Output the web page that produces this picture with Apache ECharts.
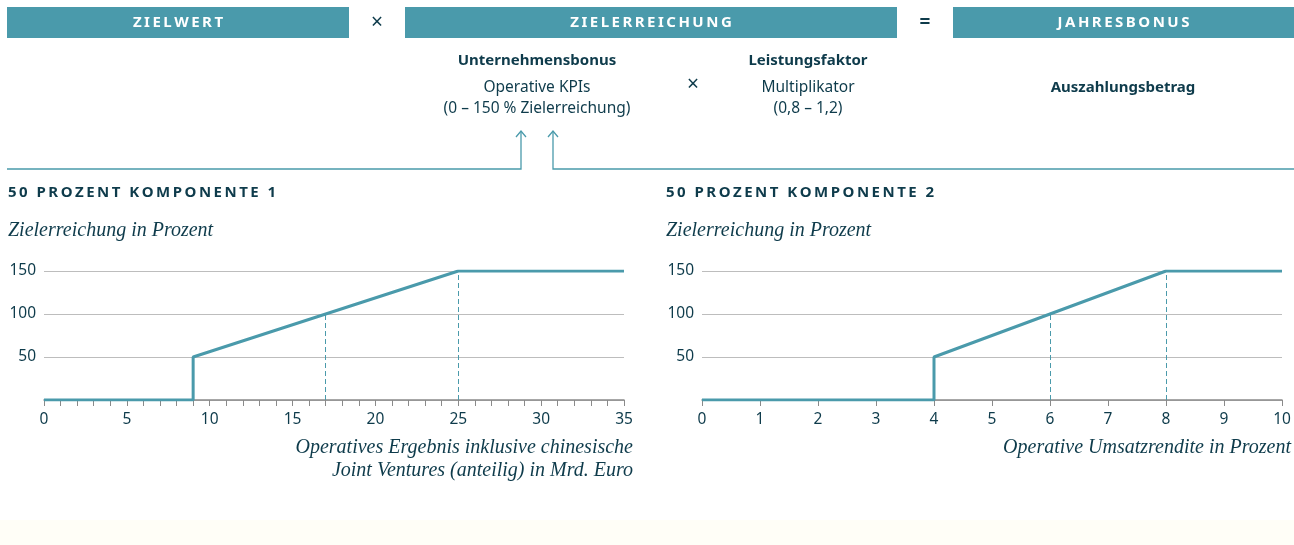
<!DOCTYPE html>
<html><head><meta charset="utf-8">
<script src="https://cdn.jsdelivr.net/npm/echarts@6/dist/echarts.min.js"></script>
<style>html,body{margin:0;padding:0;background:#fff}#c{width:1294px;height:545px}</style>
</head><body><div id="c"></div>
<script>
// ---- data ----
const headerLabels = ['ZIELWERT', 'ZIELERREICHUNG', 'JAHRESBONUS'];
const operators = ['×', '='];
const comp1Title = '50 PROZENT KOMPONENTE 1';
const comp2Title = '50 PROZENT KOMPONENTE 2';
const yAxisTitle = 'Zielerreichung in Prozent';
const xName1 = ['Operatives Ergebnis inklusive chinesische', 'Joint Ventures (anteilig) in Mrd. Euro'];
const xName2 = ['Operative Umsatzrendite in Prozent'];
const line1 = [[0, 0], [9, 0], [9, 50], [17, 100], [25, 150], [35, 150]];
const line2 = [[0, 0], [4, 0], [4, 50], [6, 100], [8, 150], [10, 150]];
const guides1 = [[17, 100], [25, 150]];
const guides2 = [[6, 100], [8, 150]];
const yTicks = [0, 50, 100, 150];

const TEAL = '#4a9aab', DARK = '#0e3b4b', SANS = '"Noto Sans", "Open Sans", sans-serif', SERIF = '"Liberation Serif", "DejaVu Serif", serif';
const spaced = (s, sp) => s.split('').join(sp);

const chart = echarts.init(document.getElementById('c'), null, {renderer: 'canvas'});

function xAxisCfg(gi, max, interval, minor) {
  return {
    type: 'value', gridIndex: gi, min: 0, max: max, interval: interval,
    axisLine: {show: true, lineStyle: {color: '#8a8a8a', width: 1.5}},
    axisTick: {show: true, length: 6, lineStyle: {color: '#8a8a8a', width: 1}},
    minorTick: {show: minor, splitNumber: 5, length: 6, lineStyle: {color: '#8a8a8a', width: 1}},
    splitLine: {show: false},
    axisLabel: {color: DARK, fontFamily: SANS, fontSize: 15.5, margin: 12}
  };
}
function yAxisCfg(gi) {
  return {
    type: 'value', gridIndex: gi, min: yTicks[0], max: yTicks[yTicks.length - 1], interval: 50,
    axisLine: {show: false}, axisTick: {show: false},
    splitLine: {show: true, lineStyle: {color: '#bdbdbd', width: 1}},
    axisLabel: {color: DARK, fontFamily: SANS, fontSize: 15.5, margin: 8,
      formatter: v => (v === 0 ? '' : String(v))}
  };
}
function seriesCfg(gi, data, guides) {
  return {
    type: 'line', xAxisIndex: gi, yAxisIndex: gi, data: data, showSymbol: false, silent: true,
    lineStyle: {color: TEAL, width: 3}, z: 5, animation: false,
    markLine: {
      silent: true, symbol: 'none', animation: false, label: {show: false},
      lineStyle: {color: TEAL, type: [5, 3], width: 1},
      data: guides.map(g => [{coord: [g[0], 0]}, {coord: [g[0], g[1]]}])
    }
  };
}

const g = [];
// header bars
const bars = [[7, 342], [405, 492], [953, 341]];
bars.forEach((b, i) => {
  g.push({type: 'rect', shape: {x: b[0], y: 7, width: b[1], height: 31}, style: {fill: TEAL}});
  g.push({type: 'text', x: b[0] + b[1] / 2, y: 23, style: {text: spaced(headerLabels[i], '\u2009'), fill: '#fff',
    font: 'bold 15px ' + SANS, align: 'center', verticalAlign: 'middle'}});
});
g.push({type: 'text', x: 377, y: 23, style: {text: operators[0], fill: DARK, font: '21px ' + SANS, align: 'center', verticalAlign: 'middle'}});
g.push({type: 'text', x: 925, y: 23, style: {text: operators[1], fill: DARK, font: 'bold 19px ' + SANS, align: 'center', verticalAlign: 'middle'}});
// sub texts
function txt(x, y, s, font, align) {
  g.push({type: 'text', x: x, y: y, style: {text: s, fill: DARK, font: font, align: align || 'center', verticalAlign: 'middle'}});
}
txt(537, 61, 'Unternehmensbonus', 'bold 15px ' + SANS);
txt(537, 88, 'Operative KPIs', '15.5px ' + SANS);
txt(537, 109, '(0 – 150 % Zielerreichung)', '15.5px ' + SANS);
txt(693, 85, '×', '21px ' + SANS);
txt(808, 61, 'Leistungsfaktor', 'bold 15px ' + SANS);
txt(808, 88, 'Multiplikator', '15.5px ' + SANS);
txt(808, 109, '(0,8 – 1,2)', '15.5px ' + SANS);
txt(1123, 88, 'Auszahlungsbetrag', 'bold 15px ' + SANS);
// connectors
const cs = {stroke: TEAL, lineWidth: 1.3, fill: 'none'};
g.push({type: 'polyline', shape: {points: [[7, 169], [521, 169], [521, 131]]}, style: cs});
g.push({type: 'polyline', shape: {points: [[516, 137], [521, 131], [526, 137]]}, style: cs});
g.push({type: 'polyline', shape: {points: [[553, 131], [553, 169], [1294, 169]]}, style: cs});
g.push({type: 'polyline', shape: {points: [[548, 137], [553, 131], [558, 137]]}, style: cs});
// chart titles
txt(8, 193, spaced(comp1Title, '\u2009'), 'bold 15px ' + SANS, 'left');
txt(666, 193, spaced(comp2Title, '\u2009'), 'bold 15px ' + SANS, 'left');
txt(8, 231, yAxisTitle, 'italic 20px ' + SERIF, 'left');
txt(666, 231, yAxisTitle, 'italic 20px ' + SERIF, 'left');
xName1.forEach((s, i) => txt(633, 448 + i * 23, s, 'italic 20px ' + SERIF, 'right'));
xName2.forEach((s, i) => txt(1291, 448 + i * 23, s, 'italic 20px ' + SERIF, 'right'));
// faint bottom band
g.push({type: 'rect', shape: {x: 0, y: 520, width: 1294, height: 25}, style: {fill: '#fffef7'}, z: -10});

chart.setOption({
  animation: false,
  grid: [
    {left: 44, top: 271, width: 580, height: 129},
    {left: 702, top: 271, width: 580, height: 129}
  ],
  xAxis: [xAxisCfg(0, 35, 5, true), xAxisCfg(1, 10, 1, false)],
  yAxis: [yAxisCfg(0), yAxisCfg(1)],
  series: [seriesCfg(0, line1, guides1), seriesCfg(1, line2, guides2)],
  graphic: g
});
</script></body></html>
